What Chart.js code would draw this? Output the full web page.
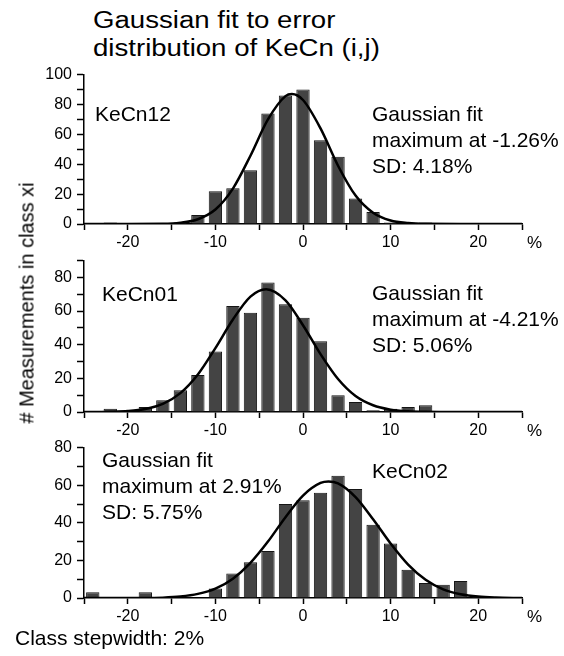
<!DOCTYPE html>
<html>
<head>
<meta charset="utf-8">
<script src="https://cdn.jsdelivr.net/npm/chart.js@4.4.1/dist/chart.umd.min.js"></script>
<style>
  body { margin: 0; background: #fff; }
  #wrap { position: relative; width: 564px; height: 656px; overflow: hidden; font-family: "Liberation Sans", Arial, sans-serif; color: #000; }
  canvas { position: absolute; left: 0; }
  .txt { position: absolute; white-space: nowrap; }
  .note { font-size: 21px; line-height: 26px; }
  .pct { font-size: 17px; line-height: 17px; }
</style>
</head>
<body>
<div id="wrap">
  <div class="txt" style="left:93px; top:6px; font-size:23px; line-height:28px; transform:scaleX(1.2); transform-origin:left top;">Gaussian fit to error<br>distribution of KeCn (i,j)</div>

  <canvas id="c12" width="564" height="190" style="top:60px"></canvas>
  <canvas id="c01" width="564" height="192" style="top:246px"></canvas>
  <canvas id="c02" width="564" height="191" style="top:433px"></canvas>

  <div class="txt note" style="left:95px; top:101px;">KeCn12</div>
  <div class="txt note" style="left:372px; top:101px;">Gaussian fit<br>maximum at -1.26%<br>SD: 4.18%</div>

  <div class="txt note" style="left:102px; top:281px;">KeCn01</div>
  <div class="txt note" style="left:372px; top:280px;">Gaussian fit<br>maximum at -4.21%<br>SD: 5.06%</div>

  <div class="txt note" style="left:102px; top:447px;">Gaussian fit<br>maximum at 2.91%<br>SD: 5.75%</div>
  <div class="txt note" style="left:372px; top:458px;">KeCn02</div>

  <div class="txt pct" style="left:527px; top:234px;">%</div>
  <div class="txt pct" style="left:527px; top:422px;">%</div>
  <div class="txt pct" style="left:527px; top:608px;">%</div>

  <div class="txt" style="left:27px; top:303px; font-size:20px; transform:translate(-50%,-50%) rotate(-90deg);"># Measurements in class xi</div>
  <div class="txt" style="left:15px; top:627px; font-size:21px; line-height:21px;">Class stepwidth: 2%</div>
</div>

<script>
// class centres, 2% wide
const classCenters = [-24, -22, -20, -18, -16, -14, -12, -10, -8, -6, -4, -2, 0, 2, 4, 6, 8, 10, 12, 14, 16, 18, 20, 22, 24];

// counts per class
const keCn12Counts = [0, 1, 0, 0, 0, 1, 6, 22, 24, 36, 74, 86, 90, 56, 45, 17, 8, 1, 0, 1, 0, 0, 0, 0, 0];
const keCn01Counts = [0, 2, 0, 3, 7, 13, 22, 36, 63, 59, 77, 64, 56, 42, 10, 6, 1, 2, 3, 4, 0, 0, 0, 0, 0];
const keCn02Counts = [3, 0.5, 0.5, 3, 0, 0, 0, 5, 13, 19, 25, 50, 52, 56, 65, 58, 39, 29, 15, 8, 7, 9, 1, 0.5, 0];

// fitted curves, points
const fit12X = [-25, -20, -16, -14, -12, -10, -8, -6, -4, -2, -1.26, 0, 2, 4, 6, 8, 10, 12, 14, 18, 25];
const fit12Y = [0, 0, 0.1, 0.8, 3.2, 9.7, 23.7, 45.7, 70, 85.6, 87, 83, 64, 39, 19, 7.5, 2.3, 0.6, 0.1, 0, 0];
const fit01X = [-25, -24, -22, -20, -18, -16, -14, -12, -10, -8, -6, -4.21, -2, 0, 2, 4, 6, 8, 10, 12, 14, 18, 25];
const fit01Y = [0, 0, 0.15, 0.56, 1.8, 4.8, 11.2, 22.3, 38, 55, 68.6, 73, 66.4, 51.6, 34.4, 19.6, 9.5, 4, 1.4, 0.4, 0.1, 0, 0];
const fit02X = [-25, -18, -16, -14, -12, -10, -8, -6, -4, -2, 0, 2, 2.91, 4, 6, 8, 10, 12, 14, 16, 18, 20, 22, 25];
const fit02Y = [0, 0, 0.2, 0.8, 2.2, 5, 10.3, 18.7, 30, 43, 54.5, 61.2, 62, 61, 53.7, 41.9, 29, 17.8, 9.7, 4.6, 2, 0.75, 0.25, 0];

const xTickLabels = [-20, -10, 0, 10, 20];

const tickFont = { family: 'Liberation Sans', size: 16 };

function makeChart(id, counts, fitX, fitY, yMax) {
  new Chart(document.getElementById(id), {
    type: 'bar',
    data: {
      datasets: [
        {
          type: 'line',
          data: fitX.map((x, i) => ({ x: x, y: fitY[i] })),
          borderColor: '#000',
          borderWidth: 2.5,
          pointRadius: 0,
          cubicInterpolationMode: 'monotone',
          order: 0
        },
        {
          data: classCenters.map((x, i) => ({ x: x, y: counts[i] })),
          backgroundColor: '#444',
          borderColor: '#151515',
          borderWidth: 1,
          barPercentage: 0.76,
          categoryPercentage: 1,
          order: 1
        }
      ]
    },
    options: {
      responsive: false,
      animation: false,
      devicePixelRatio: 1,
      layout: { padding: { left: 0, right: 42, top: 12, bottom: 0 } },
      plugins: { legend: { display: false }, tooltip: { enabled: false } },
      scales: {
        x: {
          type: 'linear',
          min: -25,
          max: 25,
          offset: false,
          afterFit: s => { s.height = 26; },
          ticks: {
            stepSize: 5,
            autoSkip: false,
            maxRotation: 0,
            padding: 3,
            color: '#000',
            font: tickFont,
            callback: v => xTickLabels.includes(v) ? String(v) : ''
          },
          grid: { drawOnChartArea: false, offset: false, tickLength: 6, color: '#000', tickWidth: 1.5 },
          border: { display: true, color: '#000', width: 1.5 }
        },
        y: {
          min: 0,
          max: yMax,
          afterFit: s => { s.width = 84; },
          ticks: {
            stepSize: 10,
            autoSkip: false,
            padding: 5,
            color: '#000',
            font: tickFont,
            callback: v => (v % 20 === 0) ? String(v) : ''
          },
          grid: { drawOnChartArea: false, tickLength: 7, color: '#000', tickWidth: 1.5 },
          border: { display: true, color: '#000', width: 1.5 }
        }
      }
    }
  });
}

makeChart('c12', keCn12Counts, fit12X, fit12Y, 100);
makeChart('c01', keCn01Counts, fit01X, fit01Y, 90);
makeChart('c02', keCn02Counts, fit02X, fit02Y, 80);
</script>
</body>
</html>
